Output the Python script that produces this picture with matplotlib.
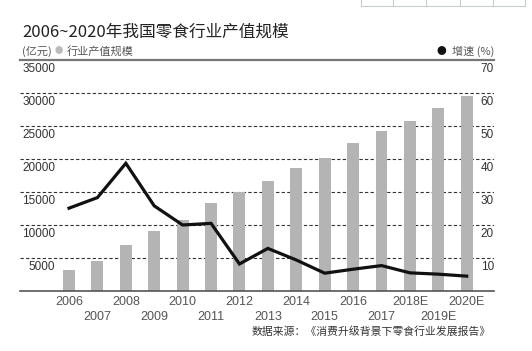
import matplotlib
matplotlib.use("Agg")
import matplotlib.pyplot as plt
from matplotlib.lines import Line2D

# 数据
years = ["2006", "2007", "2008", "2009", "2010", "2011", "2012", "2013",
         "2014", "2015", "2016", "2017", "2018E", "2019E", "2020E"]
output_value = [3200, 4600, 6900, 9100, 10800, 13400, 15000, 16700,
                18600, 20200, 22400, 24200, 25800, 27700, 29600]
growth = [25.1, 28.3, 38.7, 25.8, 20.0, 20.5, 8.2, 12.9,
          9.4, 5.4, 6.6, 7.7, 5.5, 5.1, 4.5]
left_ticks = [35000, 30000, 25000, 20000, 15000, 10000, 5000]
right_ticks = [70, 60, 50, 40, 30, 20, 10]

cjk = ["Noto Sans CJK SC", "DejaVu Sans"]
num = ["Liberation Sans", "DejaVu Sans"]

fig = plt.figure(figsize=(5.32, 3.51), dpi=100)
fig.patch.set_facecolor("white")

ax = fig.add_axes([20 / 532, 60 / 351, 474 / 532, 231 / 351])
ax.set_ylim(0, 35000)
ax.set_xlim(-1.725, 14.96)
x = list(range(len(years)))

ax.bar(x, output_value, width=0.42, color="#b4b4b4", zorder=2)

# 网格线
for t in left_ticks[1:]:
    ax.axhline(t, color="#333333", lw=0.8, dashes=(3, 2), zorder=1)
ax.axhline(35000, color="#777777", lw=1.6, zorder=1, clip_on=False)

for s in ["top", "left", "right"]:
    ax.spines[s].set_visible(False)
ax.spines["bottom"].set_color("#555555")
ax.spines["bottom"].set_linewidth(1.2)
ax.set_xticks([])
ax.set_yticks([])

# 横轴标签（两行交错）
xt = ax.get_xaxis_transform()
for i, y in enumerate(years):
    ax.text(i, -0.046 if i % 2 == 0 else -0.111, y, transform=xt,
            ha="center", va="center", fontsize=9, color="#555555", family=num)

ax2 = ax.twinx()
ax2.set_ylim(0, 70)
ax2.set_xlim(-1.725, 14.96)
ax2.plot(x, growth, color="#111111", lw=2.3, zorder=3, solid_joinstyle="miter")
ax2.axis("off")

# 纵轴标签（在网格线下方）
for t in left_ticks:
    ax.annotate(str(t), xy=(0.074, t), xycoords=ax.get_yaxis_transform(),
                xytext=(0, -2.5), textcoords="offset points",
                ha="right", va="top", fontsize=8.5, color="#333333", family=num)
for t in right_ticks:
    ax2.annotate(str(t), xy=(1.0, t), xycoords=ax2.get_yaxis_transform(),
                 xytext=(0, -2.5), textcoords="offset points",
                 ha="right", va="top", fontsize=8.5, color="#333333", family=num)

# 标题与图例
fig.text(22 / 532, 1 - 32 / 351, "2006~2020年我国零食行业产值规模",
         ha="left", va="center", fontsize=12, color="#222222", family=cjk)
fig.text(22 / 532, 1 - 51 / 351, "(亿元)", ha="left", va="center",
         fontsize=8, color="#555555", family=cjk)
fig.text(59 / 532, 1 - 51 / 351, "●", ha="center", va="center",
         fontsize=6, color="#bbbbbb", family=cjk)
fig.text(67 / 532, 1 - 51 / 351, "行业产值规模", ha="left", va="center",
         fontsize=8, color="#555555", family=cjk)
fig.text(441 / 532, 1 - 51 / 351, "●", ha="center", va="center",
         fontsize=7, color="#111111", family=cjk)
fig.text(494 / 532, 1 - 51 / 351, "增速 (%)", ha="right", va="center",
         fontsize=8, color="#555555", family=cjk)

fig.text(491 / 532, 1 - 332 / 351, "数据来源：《消费升级背景下零食行业发展报告》",
         ha="right", va="center", fontsize=7.8, color="#333333", family=cjk)

# 右上角的表格残边
for px in [361, 393, 426, 460, 493, 525]:
    fig.add_artist(Line2D([px / 532, px / 532], [1, 1 - 6 / 351],
                          color="#c8cccc", lw=0.8))
fig.add_artist(Line2D([361 / 532, 525 / 532], [1 - 6 / 351, 1 - 6 / 351],
                      color="#c8cccc", lw=0.8))

fig.savefig("out.png", dpi=100)
